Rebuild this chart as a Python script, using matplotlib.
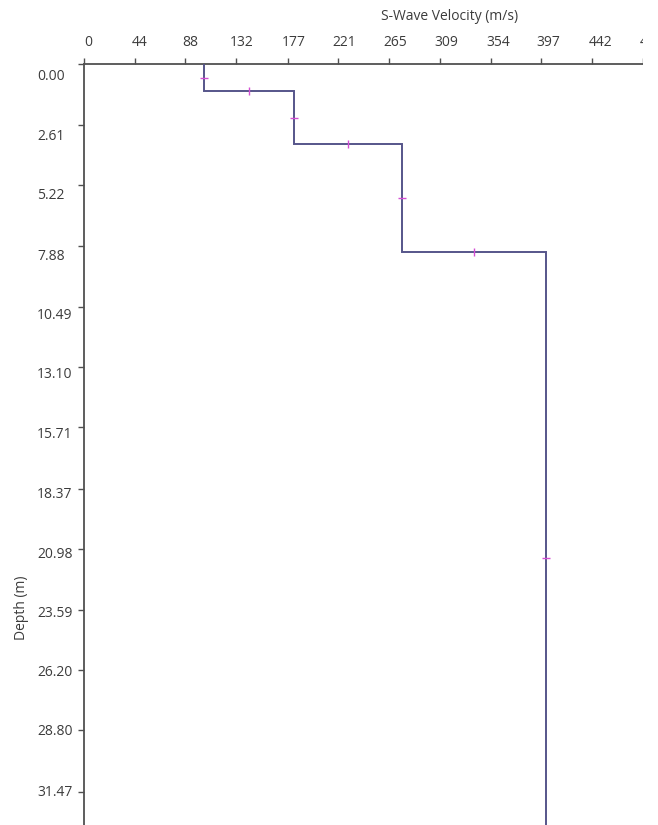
import matplotlib
matplotlib.use("Agg")
import matplotlib.pyplot as plt
from matplotlib.patches import Rectangle

# ---- data ----
velocity = [104.5, 182.0, 276.5, 402.0]          # S-wave velocity of each layer (m/s)
layer_top = [0.0, 1.17, 3.46, 8.12]              # depth of layer top (m)
layer_bottom = [1.17, 3.46, 8.12, 34.6]          # depth of layer bottom (m)

x_ticks = [0, 44, 88, 132, 177, 221, 265, 309, 354, 397, 442, 486]
x_tick_labels = ["0", "44", "88", "132", "177", "221", "265", "309", "354", "397", "442", "486"]
y_ticks = [0.00, 2.61, 5.22, 7.88, 10.49, 13.10, 15.71, 18.37, 20.98, 23.59, 26.20, 28.80, 31.47]
y_tick_labels = ["0.00", "2.61", "5.22", "7.88", "10.49", "13.10", "15.71", "18.37",
                 "20.98", "23.59", "26.20", "28.80", "31.47"]

x_title = "S-Wave Velocity (m/s)"
y_title = "Depth (m)"

# ---- style ----
plt.rcParams["font.family"] = ["Open Sans", "DejaVu Sans"]
TXT = "#3c3c3c"
AXC = "#505050"
LINE = "#56558a"
MARK = "#d44fd4"
FS = 10

W, H = 658, 825
fig = plt.figure(figsize=(W / 100, H / 100), dpi=100)
fig.patch.set_facecolor("white")

x0, x1, y0 = 84.3, 643.0, 64.3
ax = fig.add_axes([x0 / W, 0, (x1 - x0) / W, (H - y0) / H])
ax.set_xlim(0, 473.1)
ax.set_ylim(32.91, 0)

# step profile
xs, ys = [], []
for v, t, b in zip(velocity, layer_top, layer_bottom):
    xs += [v, v]
    ys += [t, b]
ax.plot(xs, ys, color=LINE, lw=1.4, solid_joinstyle="miter", zorder=3)

# midpoint markers
mv_x = list(velocity)
mv_y = [(t + b) / 2 for t, b in zip(layer_top, layer_bottom)]
ax.plot(mv_x, mv_y, ls="none", marker="_", ms=6, mew=1.0, color=MARK, zorder=4)
mh_x = [(a + b) / 2 for a, b in zip(velocity[:-1], velocity[1:])]
mh_y = layer_bottom[:-1]
ax.plot(mh_x, mh_y, ls="none", marker="|", ms=6, mew=1.0, color=MARK, zorder=4)

for s in ["bottom", "right"]:
    ax.spines[s].set_visible(False)
for s in ["left", "top"]:
    ax.spines[s].set_color(AXC)
    ax.spines[s].set_linewidth(1.3)
ax.xaxis.tick_top()
ax.set_xticks(x_ticks)
ax.set_yticks(y_ticks)
ax.tick_params(axis="both", direction="out", length=4.3, width=1.0, color=AXC,
               labeltop=False, labelleft=False, labelbottom=False)

ax.set_xlabel(x_title, fontsize=FS, color=TXT)
ax.xaxis.set_label_position("top")
ax.xaxis.set_label_coords(0.6546, 1.0622)
ax.xaxis.label.set_va("center")
ax.set_ylabel(y_title, fontsize=FS, color=TXT)
ax.yaxis.set_label_coords(-0.112, 0.285)
ax.yaxis.label.set_va("center")

# tick-label layer (labels sit on a slightly different scale in the reference)
lab = fig.add_axes([x0 / W, 0, (W - x0) / W, (H - y0) / H])
lab.patch.set_visible(False)
for s in lab.spines.values():
    s.set_visible(False)
lab.set_xlim(-3.45, 491.6)
lab.set_ylim(32.98, -0.4705)
lab.xaxis.tick_top()
lab.set_xticks(x_ticks, x_tick_labels)
lab.set_yticks(y_ticks, y_tick_labels)
lab.tick_params(axis="x", length=0, pad=10, labelsize=FS, labelcolor=TXT)
lab.tick_params(axis="y", length=0, pad=34, labelsize=FS, labelcolor=TXT)
for t in lab.get_yticklabels():
    t.set_horizontalalignment("left")

# blank strip at right edge as in the reference image
fig.add_artist(Rectangle((x1 / W, 0), (W - x1) / W, 1, transform=fig.transFigure,
                         facecolor="white", edgecolor="none", zorder=10))

fig.savefig("out.png", dpi=100, facecolor="white")
